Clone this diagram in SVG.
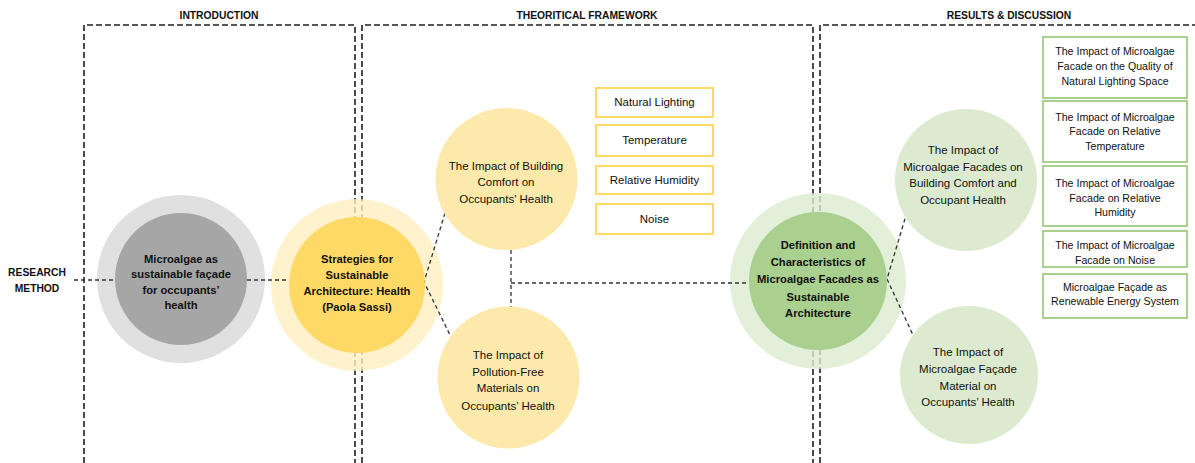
<svg xmlns="http://www.w3.org/2000/svg" width="1195" height="463" viewBox="0 0 1195 463">
  <style>
    .frame { fill: none; stroke: #1f1f1f; stroke-width: 1.6; stroke-dasharray: 6 3; }
    .conn { fill: none; stroke: #333333; stroke-width: 1.3; stroke-dasharray: 4 3; }
    .hdr { font-family: "Liberation Sans", Arial, sans-serif; font-weight: bold; font-size: 10.3px; fill: #111; text-anchor: middle; }
    .bold { font-family: "Liberation Sans", Arial, sans-serif; font-weight: bold; font-size: 11.2px; fill: #111; text-anchor: middle; }
    .reg { font-family: "Liberation Sans", Arial, sans-serif; font-size: 11.5px; fill: #111; text-anchor: middle; }
    .box { font-family: "Liberation Sans", Arial, sans-serif; font-size: 10.6px; fill: #111; text-anchor: middle; }
    .ybox { fill: #ffffff; stroke: #ffd966; stroke-width: 2; }
    .gbox { fill: #ffffff; stroke: #a9d08e; stroke-width: 2; }
  </style>

  <rect width="1195" height="463" fill="#ffffff"/>

  <!-- section frames -->
  <g id="frames">
    <path class="frame" d="M84,463 V25 H355 V463"/>
    <path class="frame" d="M362,463 V25 H813 V463"/>
    <path class="frame" d="M820,463 V25 H1200"/>
  </g>

  <!-- section headers -->
  <g id="headers">
    <text class="hdr" x="219" y="19">INTRODUCTION</text>
    <text class="hdr" x="587" y="19">THEORITICAL FRAMEWORK</text>
    <text class="hdr" x="1009" y="19">RESULTS &amp; DISCUSSION</text>
  </g>

  <g id="research-method">
    <text class="hdr" x="37" y="276">RESEARCH</text>
    <text class="hdr" x="37" y="292">METHOD</text>
  </g>

  <!-- outer halo rings -->
  <g id="halos">
    <circle cx="181" cy="279" r="84" fill="#e0e0e0"/>
    <circle cx="357" cy="285" r="86" fill="#ffefbf" fill-opacity="0.8"/>
    <circle cx="818" cy="281" r="88" fill="#dbebcf" fill-opacity="0.8"/>
  </g>

  <!-- connectors -->
  <g id="connectors">
    <line class="conn" x1="74" y1="280" x2="115" y2="280"/>
    <line class="conn" x1="247" y1="280" x2="289" y2="280"/>
    <polyline class="conn" points="445,213 424,282 451,337"/>
    <line class="conn" x1="511" y1="250" x2="511" y2="307"/>
    <line class="conn" x1="511" y1="283" x2="749" y2="283"/>
    <polyline class="conn" points="907,212 887,279 913,335"/>
  </g>

  <g id="node-microalgae">
    <circle cx="181" cy="279" r="66" fill="#a6a6a6"/>
    <text class="bold" x="181" y="263">Microalgae as</text>
    <text class="bold" x="181" y="278.3">sustainable façade</text>
    <text class="bold" x="181" y="293.6">for occupants’</text>
    <text class="bold" x="181" y="309">health</text>
  </g>

  <g id="node-strategies">
    <circle cx="357" cy="285" r="68" fill="#ffd966"/>
    <text class="bold" x="357" y="263">Strategies for</text>
    <text class="bold" x="357" y="279">Sustainable</text>
    <text class="bold" x="357" y="295">Architecture: Health</text>
    <text class="bold" x="357" y="310.5">(Paola Sassi)</text>
  </g>

  <g id="node-comfort">
    <circle cx="506.5" cy="179" r="71" fill="#fde9ab"/>
    <text class="reg" x="506" y="170">The Impact of Building</text>
    <text class="reg" x="506" y="186">Comfort on</text>
    <text class="reg" x="506" y="202.5">Occupants' Health</text>
  </g>

  <g id="node-pollution">
    <circle cx="508.5" cy="377.5" r="71" fill="#fde9ab"/>
    <text class="reg" x="508" y="359">The Impact of</text>
    <text class="reg" x="508" y="375.5">Pollution-Free</text>
    <text class="reg" x="508" y="392">Materials on</text>
    <text class="reg" x="508" y="409.5">Occupants’ Health</text>
  </g>

  <g id="comfort-factors">
    <g id="box-lighting">
      <rect class="ybox" x="596" y="88" width="117" height="29"/>
      <text class="reg" x="654.5" y="106">Natural Lighting</text>
    </g>
    <g id="box-temperature">
      <rect class="ybox" x="596" y="125" width="117" height="31"/>
      <text class="reg" x="654.5" y="144">Temperature</text>
    </g>
    <g id="box-humidity">
      <rect class="ybox" x="596" y="166" width="117" height="28"/>
      <text class="reg" x="654.5" y="184">Relative Humidity</text>
    </g>
    <g id="box-noise">
      <rect class="ybox" x="596" y="204" width="117" height="30"/>
      <text class="reg" x="654.5" y="222.5">Noise</text>
    </g>
  </g>

  <g id="node-definition">
    <circle cx="818" cy="281" r="69" fill="#a9d08e"/>
    <text class="bold" x="818" y="249">Definition and</text>
    <text class="bold" x="818" y="266">Characteristics of</text>
    <text class="bold" x="818" y="283">Microalgae Facades as</text>
    <text class="bold" x="818" y="300.5">Sustainable</text>
    <text class="bold" x="818" y="317">Architecture</text>
  </g>

  <g id="node-facade-comfort">
    <circle cx="966" cy="180" r="71" fill="#dcebcf"/>
    <text class="reg" x="963" y="154">The Impact of</text>
    <text class="reg" x="963" y="170.5">Microalgae Facades on</text>
    <text class="reg" x="963" y="187">Building Comfort and</text>
    <text class="reg" x="963" y="204">Occupant Health</text>
  </g>

  <g id="node-facade-material">
    <circle cx="969" cy="375" r="69" fill="#dcebcf"/>
    <text class="reg" x="968" y="356">The Impact of</text>
    <text class="reg" x="968" y="373">Microalgae Façade</text>
    <text class="reg" x="968" y="390">Material on</text>
    <text class="reg" x="968" y="406">Occupants’ Health</text>
  </g>

  <g id="results-list">
    <g id="res-lighting">
      <rect class="gbox" x="1043" y="37" width="144" height="61"/>
      <text class="box" x="1115" y="55">The Impact of Microalgae</text>
      <text class="box" x="1115" y="70">Facade on the Quality of</text>
      <text class="box" x="1115" y="85">Natural Lighting Space</text>
    </g>
    <g id="res-temperature">
      <rect class="gbox" x="1043" y="101" width="144" height="61"/>
      <text class="box" x="1115" y="120.5">The Impact of Microalgae</text>
      <text class="box" x="1115" y="135">Facade on Relative</text>
      <text class="box" x="1115" y="149.5">Temperature</text>
    </g>
    <g id="res-humidity">
      <rect class="gbox" x="1043" y="166" width="144" height="60"/>
      <text class="box" x="1115" y="187">The Impact of Microalgae</text>
      <text class="box" x="1115" y="202">Facade on Relative</text>
      <text class="box" x="1115" y="216">Humidity</text>
    </g>
    <g id="res-noise">
      <rect class="gbox" x="1043" y="231" width="144" height="36"/>
      <text class="box" x="1115" y="249">The Impact of Microalgae</text>
      <text class="box" x="1115" y="263.5">Facade on Noise</text>
    </g>
    <g id="res-energy">
      <rect class="gbox" x="1043" y="274" width="144" height="44"/>
      <text class="box" x="1115" y="291">Microalgae Façade as</text>
      <text class="box" x="1115" y="305">Renewable Energy System</text>
    </g>
  </g>
</svg>
